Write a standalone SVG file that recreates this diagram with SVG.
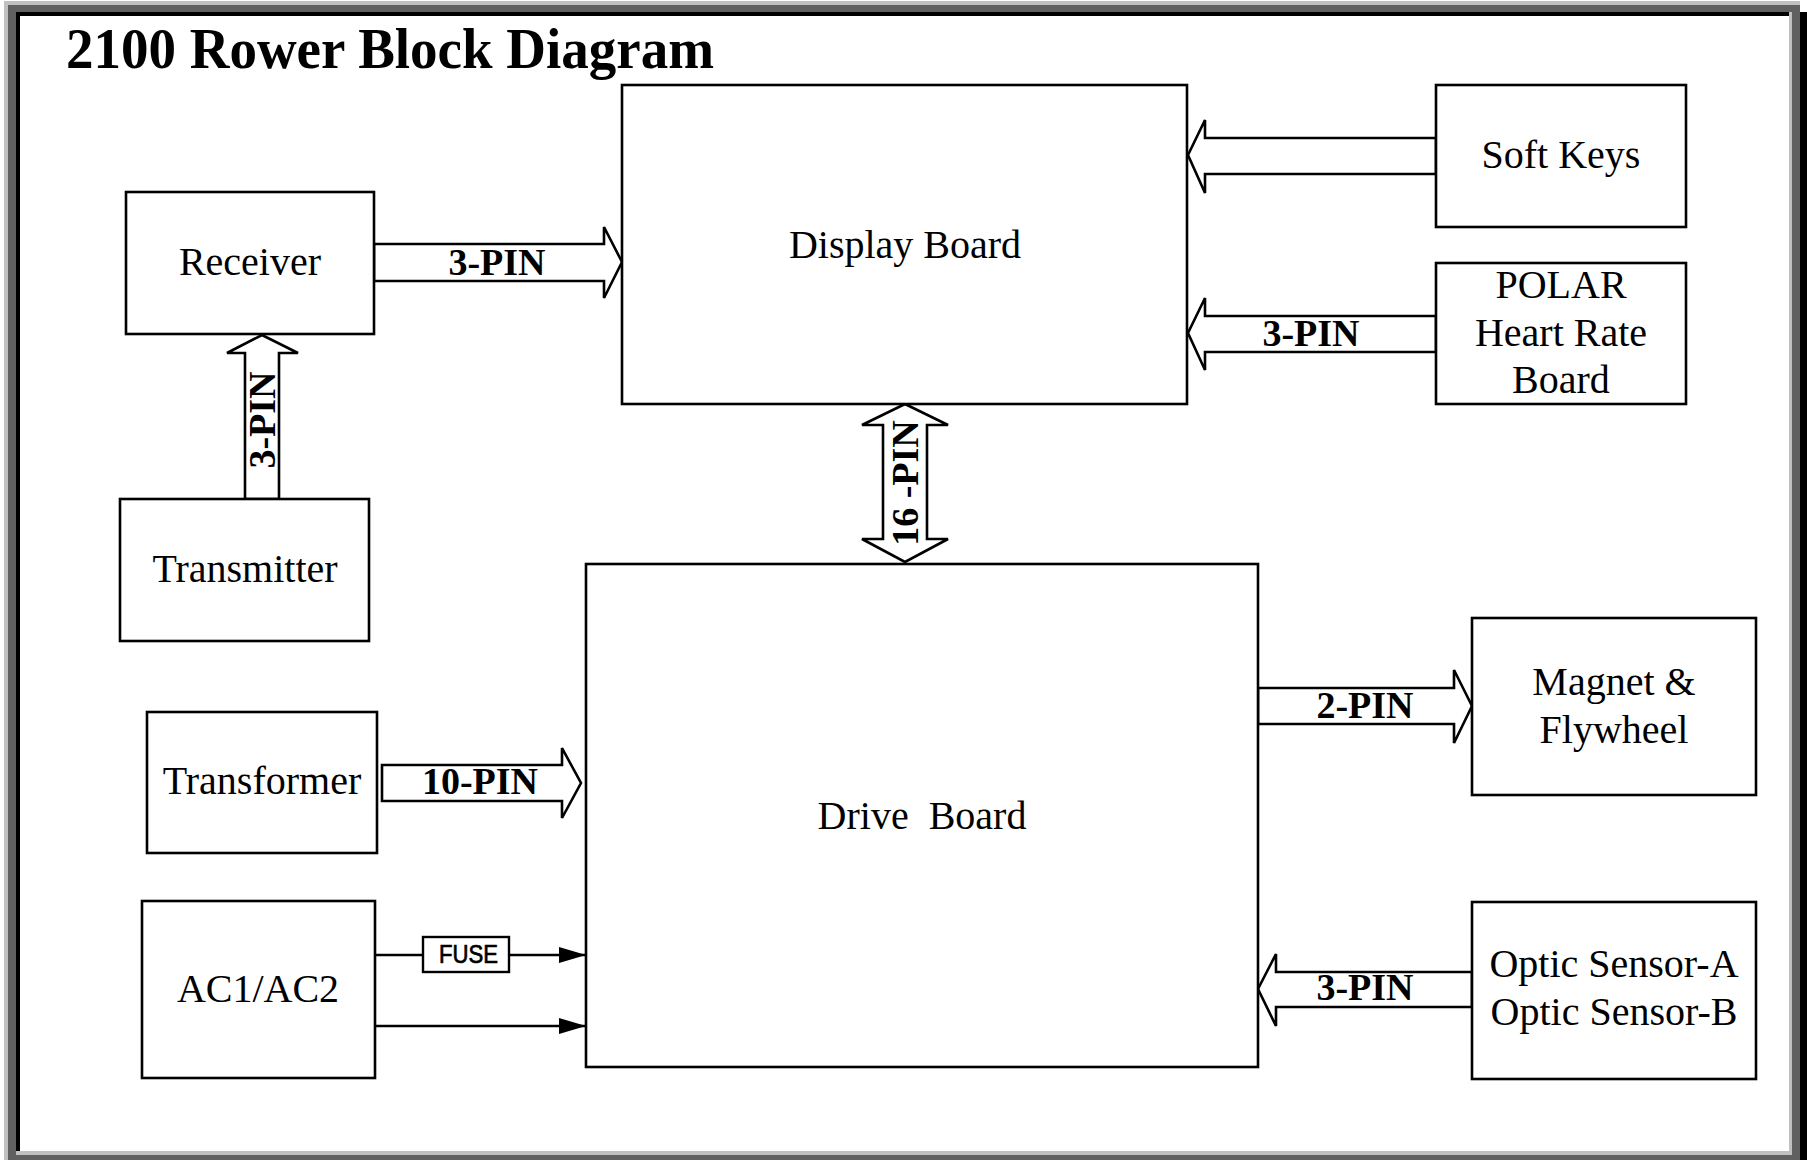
<svg xmlns="http://www.w3.org/2000/svg" width="1807" height="1160" viewBox="0 0 1807 1160">
<style>
.box{fill:#fff;stroke:#000;stroke-width:2.6}
.t{font-family:"Liberation Serif","Times New Roman",serif;font-size:40px;fill:#000;text-anchor:middle}
.pin{font-family:"Liberation Serif","Times New Roman",serif;font-size:38px;font-weight:bold;fill:#000;text-anchor:middle}
.ha{fill:#fff;stroke:#000;stroke-width:2.6;stroke-linejoin:miter}
.ln{fill:none;stroke:#000;stroke-width:2.6}
</style>
<defs>
<marker id="ah" markerUnits="userSpaceOnUse" markerWidth="28" markerHeight="18" refX="27" refY="9" orient="auto">
<path d="M0,1 L27,9 L0,17 z" fill="#000"/>
</marker>
</defs>
<g id="frame">
<rect x="4" y="1" width="1796" height="1159" fill="#c0c0c0"/>
<rect x="8" y="5" width="1792" height="1155" fill="#606060"/>
<rect x="1800" y="12" width="7" height="1148" fill="#000"/>
<rect x="16" y="12" width="1776" height="1143" fill="#c0c0c0"/>
<rect x="16" y="12" width="1773" height="1139" fill="#000"/>
<rect x="20" y="16" width="1769" height="1135" fill="#fff"/>
</g>
<text id="title" x="66" y="68" font-family="'Liberation Serif','Times New Roman',serif" font-size="58" font-weight="bold" textLength="648" lengthAdjust="spacingAndGlyphs">2100 Rower Block Diagram</text>
<g id="connectors">
<polygon class="ha" points="374,244 604,244 604,227 622,262 604,298 604,281 374,281"/>
<text class="pin" x="497" y="275">3-PIN</text>
<polygon class="ha" points="245,499 245,353 227,353 262,335 298,353 279,353 279,499"/>
<text class="pin" transform="translate(275,420) rotate(-90)">3-PIN</text>
<polygon class="ha" points="1436,138 1205,138 1205,120 1188,155 1205,193 1205,174 1436,174"/>
<polygon class="ha" points="1436,316 1205,316 1205,298 1188,333 1205,370 1205,352 1436,352"/>
<text class="pin" x="1311" y="346">3-PIN</text>
<polygon class="ha" points="905,404 948,425 927,425 927,539 948,539 905,562 862,539 883,539 883,425 862,425"/>
<text class="pin" transform="translate(918,483) rotate(-90)">16 -PIN</text>
<polygon class="ha" points="382,765 562,765 562,748 581,783 562,818 562,801 382,801"/>
<text class="pin" x="480" y="794">10-PIN</text>
<polygon class="ha" points="1258,688 1454,688 1454,670 1472,706 1454,743 1454,724 1258,724"/>
<text class="pin" x="1365" y="718">2-PIN</text>
<polygon class="ha" points="1472,972 1276,972 1276,954 1258,989 1276,1026 1276,1007 1472,1007"/>
<text class="pin" x="1365" y="1000">3-PIN</text>
<line class="ln" x1="375" y1="955" x2="423" y2="955"/>
<line class="ln" x1="509" y1="955" x2="586" y2="955" marker-end="url(#ah)"/>
<line class="ln" x1="375" y1="1026" x2="586" y2="1026" marker-end="url(#ah)"/>
<g id="fuse">
<rect x="423" y="937" width="86" height="35" fill="#fff" stroke="#000" stroke-width="2.4"/>
<text x="439" y="963" font-family="'Liberation Sans',Arial,sans-serif" font-size="25" fill="#000" stroke="#000" stroke-width="0.7" textLength="59" lengthAdjust="spacingAndGlyphs">FUSE</text>
</g>
</g>
<g id="display-board">
<rect class="box" x="622" y="85" width="565" height="319"/>
<text class="t" x="905" y="258">Display Board</text>
</g>
<g id="receiver">
<rect class="box" x="126" y="192" width="248" height="142"/>
<text class="t" x="250" y="275">Receiver</text>
</g>
<g id="transmitter">
<rect class="box" x="120" y="499" width="249" height="142"/>
<text class="t" x="245" y="582">Transmitter</text>
</g>
<g id="soft-keys">
<rect class="box" x="1436" y="85" width="250" height="142"/>
<text class="t" x="1561" y="168">Soft Keys</text>
</g>
<g id="polar">
<rect class="box" x="1436" y="263" width="250" height="141"/>
<text class="t" x="1561" y="298">POLAR</text>
<text class="t" x="1561" y="346">Heart Rate</text>
<text class="t" x="1561" y="393">Board</text>
</g>
<g id="drive-board">
<rect class="box" x="586" y="564" width="672" height="503"/>
<text class="t" x="922" y="829" xml:space="preserve">Drive  Board</text>
</g>
<g id="transformer">
<rect class="box" x="147" y="712" width="230" height="141"/>
<text class="t" x="262" y="794">Transformer</text>
</g>
<g id="ac">
<rect class="box" x="142" y="901" width="233" height="177"/>
<text class="t" x="258" y="1002">AC1/AC2</text>
</g>
<g id="magnet">
<rect class="box" x="1472" y="618" width="284" height="177"/>
<text class="t" x="1614" y="695">Magnet &amp;</text>
<text class="t" x="1614" y="743">Flywheel</text>
</g>
<g id="optic">
<rect class="box" x="1472" y="902" width="284" height="177"/>
<text class="t" x="1614" y="977">Optic Sensor-A</text>
<text class="t" x="1614" y="1025">Optic Sensor-B</text>
</g>
</svg>
